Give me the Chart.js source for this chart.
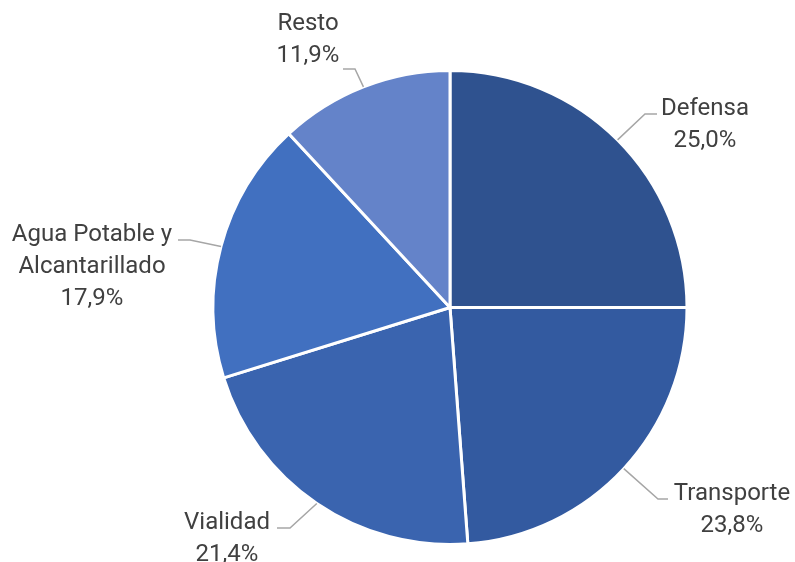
<!DOCTYPE html>
<html>
<head>
<meta charset="utf-8">
<script src="https://cdn.jsdelivr.net/npm/chart.js@4.4.0/dist/chart.umd.min.js"></script>
<style>
  html, body { margin: 0; padding: 0; background: #fff; }
  #wrap { width: 795px; height: 562px; }
</style>
</head>
<body>
<div id="wrap"><canvas id="chart" width="795" height="562"></canvas></div>
<script>
// Datos
const categories = ['Defensa', 'Transporte', 'Vialidad', 'Agua Potable y Alcantarillado', 'Resto'];
const shares = [25.0, 23.8, 21.4, 17.9, 11.9];
const labelLines = [['Defensa'], ['Transporte'], ['Vialidad'], ['Agua Potable y', 'Alcantarillado'], ['Resto']];
const colors = ['#2F528F', '#335AA0', '#3A64AF', '#4170C0', '#6483C9'];

// label placement (text centre, elbow of leader line, end of leader line)
const labelLayout = [
  { x: 705, y: 109, elbow: [645, 114], end: [657, 114] },
  { x: 732, y: 494, elbow: [658, 499], end: [668, 499] },
  { x: 227, y: 523, elbow: [290, 528], end: [277, 528] },
  { x: 92,  y: 235, elbow: [190, 240], end: [178, 240] },
  { x: 308, y: 24,  elbow: [355, 69],  end: [343, 69] }
];

const fmt = (v) => v.toFixed(1).replace('.', ',') + '%';

const leaderLabels = {
  id: 'leaderLabels',
  afterDatasetsDraw(chart) {
    const ctx = chart.ctx;
    const meta = chart.getDatasetMeta(0);
    ctx.save();
    meta.data.forEach((arc, i) => {
      const mid = (arc.startAngle + arc.endAngle) / 2;
      const sx = arc.x + Math.cos(mid) * arc.outerRadius;
      const sy = arc.y + Math.sin(mid) * arc.outerRadius;
      const lay = labelLayout[i];
      ctx.strokeStyle = '#A6A6A6';
      ctx.lineWidth = 1.5;
      ctx.beginPath();
      ctx.moveTo(sx, sy);
      ctx.lineTo(lay.elbow[0], lay.elbow[1]);
      ctx.lineTo(lay.end[0], lay.end[1]);
      ctx.stroke();

      ctx.fillStyle = '#404040';
      ctx.font = '24px Roboto';
      ctx.textAlign = 'center';
      ctx.textBaseline = 'middle';
      const lines = labelLines[i].concat([fmt(shares[i])]);
      lines.forEach((t, k) => ctx.fillText(t, lay.x, lay.y + k * 32));
    });
    ctx.restore();
  }
};

new Chart(document.getElementById('chart'), {
  type: 'pie',
  data: {
    labels: categories,
    datasets: [{
      data: shares,
      backgroundColor: colors,
      borderColor: '#ffffff',
      borderWidth: 3
    }]
  },
  options: {
    responsive: false,
    animation: false,
    layout: { padding: { left: 211, right: 106, top: 69, bottom: 16 } },
    plugins: {
      legend: { display: false },
      tooltip: { enabled: false }
    }
  },
  plugins: [leaderLabels]
});
</script>
</body>
</html>
